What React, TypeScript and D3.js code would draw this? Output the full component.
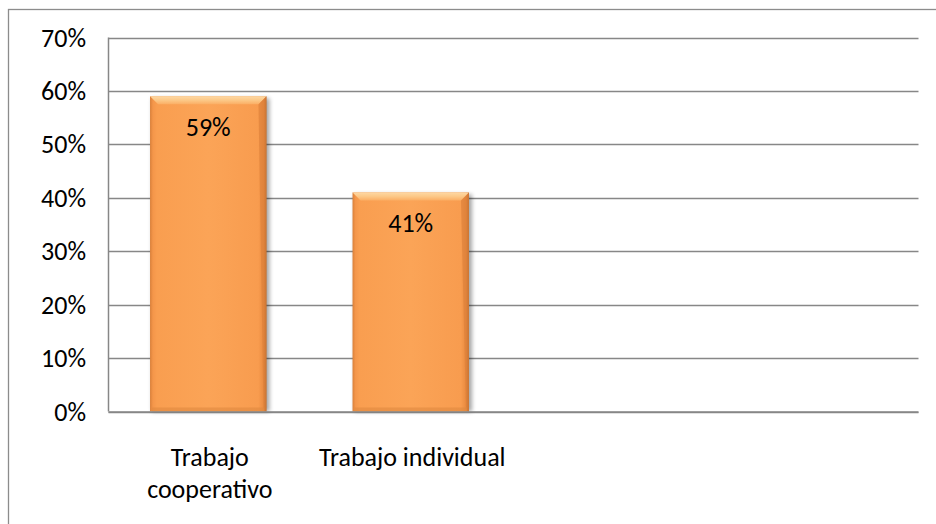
import React, { useEffect, useRef } from "react";
import * as d3 from "d3";

const categories = ["Trabajo cooperativo", "Trabajo individual"];
const values = [0.59, 0.41];
const slotCount = 4;
const yTicks = [0, 0.1, 0.2, 0.3, 0.4, 0.5, 0.6, 0.7];

const W = 936;
const H = 524;
const FONT = "Carlito, Calibri, Lato, 'Open Sans', sans-serif";
const FS = 26;

export default function App() {
  const ref = useRef<SVGSVGElement | null>(null);

  useEffect(() => {
    const svg = d3.select(ref.current);
    svg.selectAll("*").remove();

    const left = 108.5, right = 918.5, top = 37.5, bottom = 411.5;

    const x = d3.scaleBand<number>()
      .domain(d3.range(slotCount))
      .range([left - 1.5, right - 1.5])
      .paddingInner(0.425)
      .paddingOuter(0.2125);
    const y = d3.scaleLinear().domain([0, 0.7]).range([bottom, top]);

    const defs = svg.append("defs");
    const hg = defs.append("linearGradient").attr("id", "barH").attr("x1", 0).attr("x2", 1).attr("y1", 0).attr("y2", 0);
    [
      [0, "#D9803A"], [0.025, "#F4964A"], [0.06, "#F99E50"], [0.5, "#FBA457"], [0.93, "#F89C4F"], [0.975, "#E98A3F"], [1, "#B86A2E"],
    ].forEach(([o, c]) => hg.append("stop").attr("offset", o as number).attr("stop-color", c as string));
    const tg = defs.append("linearGradient").attr("id", "barTop").attr("x1", 0).attr("x2", 0).attr("y1", 0).attr("y2", 1);
    [[0, "#FDD8A4"], [0.5, "#FCC887"], [1, "#FBAE64"]].forEach(([o, c]) =>
      tg.append("stop").attr("offset", o as number).attr("stop-color", c as string));
    const blur = defs.append("filter").attr("id", "shadow").attr("x", "-20%").attr("y", "-20%").attr("width", "140%").attr("height", "140%");
    blur.append("feGaussianBlur").attr("stdDeviation", 2);

    // outer border
    svg.append("rect").attr("x", 8.5).attr("y", 9.5).attr("width", 1000).attr("height", 1000)
      .attr("fill", "none").attr("stroke", "#8C8C8C").attr("stroke-width", 1.3);

    // gridlines
    svg.append("g").selectAll("line").data(yTicks).join("line")
      .attr("x1", left).attr("x2", right)
      .attr("y1", (d) => Math.round(y(d)) + 0.5).attr("y2", (d) => Math.round(y(d)) + 0.5)
      .attr("stroke", "#878787").attr("stroke-width", 1.5);
    // y axis line
    svg.append("line").attr("x1", left).attr("x2", left).attr("y1", top).attr("y2", bottom)
      .attr("stroke", "#878787").attr("stroke-width", 1.5);

    // y tick labels
    svg.append("g").selectAll("text").data(yTicks).join("text")
      .attr("x", 86).attr("y", (d) => y(d)).attr("dy", "0.35em")
      .attr("text-anchor", "end").attr("font-family", FONT).attr("font-size", FS).attr("fill", "#000")
      .text((d) => d3.format(".0%")(d));

    // bars
    const bw = x.bandwidth();
    const g = svg.append("g");
    values.forEach((v, i) => {
      const bx = x(i)!;
      const by = y(v);
      const bh = bottom - by;
      const b = 8;
      g.append("rect").attr("x", bx + 2).attr("y", by + 2).attr("width", bw + 1).attr("height", bh - 2)
        .attr("fill", "#000").attr("opacity", 0.35).attr("filter", "url(#shadow)");
      g.append("rect").attr("x", bx).attr("y", by).attr("width", bw).attr("height", bh).attr("fill", "url(#barH)");
      g.append("polygon")
        .attr("points", `${bx},${by} ${bx + bw},${by} ${bx + bw - b},${by + b} ${bx + b},${by + b}`)
        .attr("fill", "url(#barTop)");
      g.append("polygon")
        .attr("points", `${bx + bw},${by} ${bx + bw},${by + bh} ${bx + bw - 3},${by + bh - 3} ${bx + bw - b},${by + b}`)
        .attr("fill", "#D97E38").attr("opacity", 0.55);
      g.append("rect").attr("x", bx + 2).attr("y", bottom - 4).attr("width", bw - 4).attr("height", 4)
        .attr("fill", "#E08840").attr("opacity", 0.6);
      g.append("text").attr("x", bx + bw / 2).attr("y", by + 40)
        .attr("text-anchor", "middle").attr("font-family", FONT).attr("font-size", FS).attr("fill", "#000")
        .text(d3.format(".0%")(v));
    });

    // x axis line
    svg.append("line").attr("x1", left).attr("x2", right).attr("y1", bottom + 0.5).attr("y2", bottom + 0.5)
      .attr("stroke", "#878787").attr("stroke-width", 1.5);

    // x labels with wrap
    const maxW = x.step() * 0.96;
    categories.forEach((c, i) => {
      const cx = x(i)! + bw / 2 + 1.5;
      const t = svg.append("text").attr("x", cx).attr("y", 466)
        .attr("text-anchor", "middle").attr("font-family", FONT).attr("font-size", FS).attr("fill", "#000");
      const words = c.split(" ");
      let line: string[] = [];
      let lineNo = 0;
      let ts = t.append("tspan").attr("x", cx).attr("y", 466);
      words.forEach((w) => {
        line.push(w);
        ts.text(line.join(" "));
        if ((ts.node() as SVGTSpanElement).getComputedTextLength() > maxW && line.length > 1) {
          line.pop();
          ts.text(line.join(" "));
          line = [w];
          lineNo++;
          ts = t.append("tspan").attr("x", cx).attr("y", 466 + lineNo * 32).text(w);
        }
      });
    });
  }, []);

  return (
    <svg ref={ref} width={W} height={H}
      style={{ position: "absolute", left: 0, top: 0, background: "#fff", display: "block" }} />
  );
}
